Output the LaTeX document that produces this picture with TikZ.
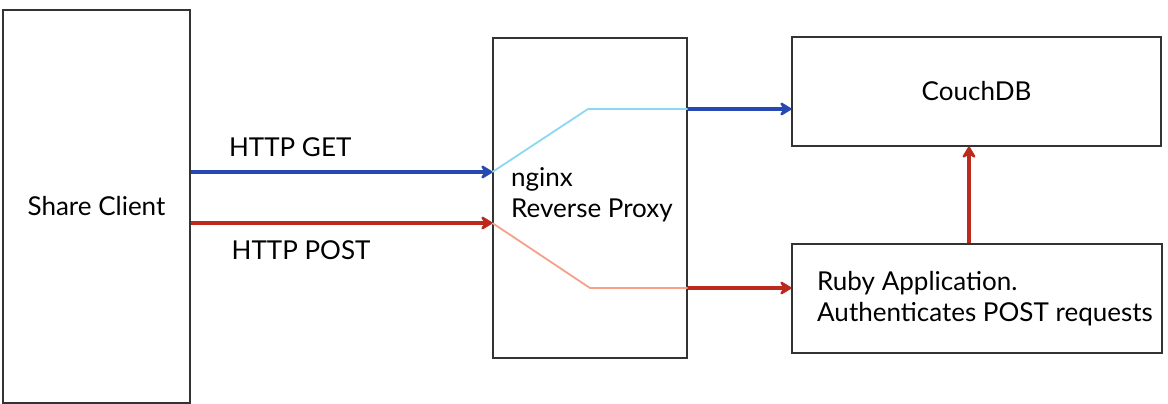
\documentclass[tikz,border=0pt]{standalone}
\usepackage{fontspec}
\setmainfont{Lato}
\usepackage{tikz}
\usetikzlibrary{arrows.meta, positioning}

\definecolor{getblue}{RGB}{38,72,178}
\definecolor{getlight}{RGB}{140,215,242}
\definecolor{postred}{RGB}{188,42,30}
\definecolor{postlight}{RGB}{246,160,140}

\begin{document}
\begin{tikzpicture}[
  x=1pt, y=-1pt,
  every node/.style={font=\fontsize{26}{31}\selectfont, text=black},
  box/.style={draw=black!80, line width=1.3pt, inner sep=0pt},
  flow/.style={line width=4pt, -{Stealth[length=14pt, width=17pt, inset=5pt, round]}},
  inner/.style={line width=1.8pt}
]
\useasboundingbox (0,0) rectangle (1168,404);
% boxes
\node[box, minimum width=187pt, minimum height=393pt] (client) at (96.5,206.5) {Share Client};
\node[box, minimum width=194pt, minimum height=320pt] (proxy) at (590,198) {};
\node[anchor=west, align=left, inner sep=0pt] (proxy-label) at (511,195) {nginx\\Reverse Proxy};
\node[box, minimum width=369pt, minimum height=109pt] (couch) at (976.5,91.5) {CouchDB};
\node[box, minimum width=370pt, minimum height=109pt] (ruby) at (977,298.5) {};
\node[anchor=west, align=left, inner sep=0pt] (ruby-label) at (817,299) {Ruby Application.\\Authenticates POST requests};
% routing points inside the proxy
\coordinate (get-in) at (proxy.west |- 0,172);
\coordinate (post-in) at (proxy.west |- 0,223);
\coordinate (get-bend) at (588,109);
\coordinate (post-bend) at (590,288);
\coordinate (get-out) at (proxy.east |- get-bend);
\coordinate (post-out) at (proxy.east |- post-bend);
% HTTP GET
\draw[flow, getblue] (client.east |- get-in) -- node[above=10pt, pos=0.33] (get-label) {HTTP GET} (get-in);
\draw[inner, getlight] (get-in) -- (get-bend) -- (get-out);
\draw[flow, getblue] (get-out) -- (couch.west |- get-out);
% HTTP POST
\draw[flow, postred] (client.east |- post-in) -- node[below=12pt, pos=0.366] (post-label) {HTTP POST} (post-in);
\draw[inner, postlight] (post-in) -- (post-bend) -- (post-out);
\draw[flow, postred] (post-out) -- (ruby.west |- post-out);
% ruby to couchdb
\draw[flow, postred] (ruby.north -| 969,0) -- (couch.south -| 969,0);
\end{tikzpicture}
\end{document}
